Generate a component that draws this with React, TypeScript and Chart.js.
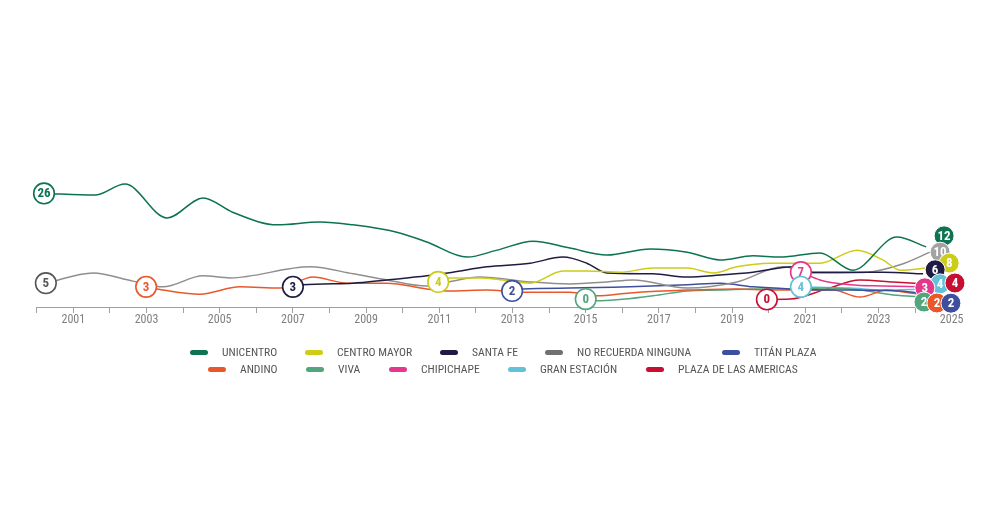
import React, { useEffect, useRef } from 'react';
import { Chart, registerables } from 'chart.js';

Chart.register(...registerables);

// ---------- DATA ----------
const seriesNames = [
  'UNICENTRO',
  'CENTRO MAYOR',
  'SANTA FE',
  'NO RECUERDA NINGUNA',
  'TITÁN PLAZA',
  'ANDINO',
  'VIVA',
  'CHIPICHAPE',
  'GRAN ESTACIÓN',
  'PLAZA DE LAS AMERICAS',
];

const unicentroYears = [2000.2, 2001.59, 2002.41, 2003.56, 2004.55, 2005.35, 2006.57, 2007.74, 2008.64, 2009.84, 2010.66, 2011.76, 2012.58, 2013.56, 2014.57, 2015.58, 2016.76, 2017.77, 2018.67, 2019.57, 2020.31, 2021.4, 2022.3, 2023.5, 2024.3];
const unicentroValues = [26, 25.6, 28.3, 20.0, 24.9, 21.4, 18.3, 19.0, 18.3, 16.5, 14.1, 10.4, 12.1, 14.3, 12.6, 10.9, 12.4, 11.6, 9.7, 10.7, 10.4, 11.4, 7.2, 15.3, 12.9];

const centroMayorYears = [2010.97, 2011.24, 2012.11, 2012.74, 2013.48, 2014.38, 2015.03, 2015.94, 2016.84, 2017.77, 2018.48, 2019.13, 2020.04, 2021.4, 2022.41, 2023.12, 2023.59, 2024.33];
const centroMayorValues = [4.3, 5.3, 5.3, 4.8, 4.0, 7.0, 7.0, 6.7, 7.7, 7.7, 6.5, 8.0, 8.9, 8.9, 12.1, 9.7, 7.2, 7.7];

const santaFeYears = [2007.0, 2007.27, 2008.64, 2009.57, 2010.66, 2011.37, 2012.3, 2013.48, 2014.38, 2015.03, 2015.58, 2016.84, 2017.77, 2018.67, 2019.57, 2020.66, 2021.21, 2022.22, 2023.12, 2024.22];
const santaFeValues = [3.1, 3.6, 4.0, 4.8, 5.8, 6.7, 8.0, 8.9, 10.4, 8.9, 6.5, 6.3, 5.5, 6.0, 6.7, 8.0, 6.7, 6.7, 6.7, 6.3];

const noRecuerdaYears = [2000.25, 2001.54, 2002.63, 2003.45, 2004.54, 2005.28, 2007.47, 2008.65, 2009.57, 2010.66, 2011.24, 2012.11, 2013.48, 2014.57, 2015.58, 2016.29, 2017.77, 2019.13, 2020.39, 2021.21, 2022.69, 2023.59, 2024.41];
const noRecuerdaValues = [4.0, 6.5, 4.5, 3.1, 5.8, 5.3, 8.0, 6.3, 4.8, 3.3, 4.3, 5.5, 4.3, 3.8, 4.3, 4.8, 2.8, 4.3, 8.0, 6.5, 6.7, 8.5, 11.6];

const titanYears = [2012.99, 2013.29, 2014.57, 2016.21, 2017.77, 2018.67, 2019.57, 2020.58, 2022.22, 2023.59, 2024.35];
const titanValues = [2.1, 2.6, 2.8, 3.1, 3.6, 4.0, 3.1, 2.6, 2.3, 2.1, 1.3];

const andinoYears = [2002.99, 2003.29, 2004.46, 2005.55, 2006.65, 2007.55, 2008.48, 2009.57, 2010.66, 2011.29, 2012.3, 2013.2, 2014.57, 2015.31, 2016.21, 2017.77, 2019.13, 2020.04, 2021.76, 2022.49, 2023.23, 2023.86, 2024.35];
const andinoValues = [3.1, 2.6, 1.3, 3.1, 2.8, 5.5, 4.0, 4.0, 2.6, 2.1, 2.3, 1.8, 1.8, 0.9, 1.6, 2.3, 2.6, 2.3, 2.3, 0.6, 2.3, 1.6, 1.1];

const vivaYears = [2015.0, 2015.31, 2016.84, 2017.77, 2018.67, 2019.57, 2020.5, 2021.67, 2022.49, 2023.4, 2024.27];
const vivaValues = [0.1, -0.3, 0.9, 2.1, 2.3, 2.6, 2.6, 2.8, 2.3, 1.1, 0.6];

const chipichapeYears = [2020.88, 2021.4, 2022.22, 2023.12, 2024.13];
const chipichapeValues = [6.7, 4.8, 3.6, 3.3, 3.1];

const granEstacionYears = [2020.88, 2022.22, 2023.12, 2024.27];
const granEstacionValues = [3.1, 2.8, 2.3, 2.6];

const plazaAmericasYears = [2019.95, 2020.58, 2021.59, 2022.49, 2023.4, 2024.27];
const plazaAmericasValues = [0.0, 0.1, 2.6, 4.8, 4.3, 3.8];

const startLabels = [26, 4, 3, 5, 2, 3, 0, 7, 4, 0];
const endLabels = [12, 8, 6, 10, 2, 2, 2, 3, 4, 4];

const xTickYears = [2001, 2003, 2005, 2007, 2009, 2011, 2013, 2015, 2017, 2019, 2021, 2023, 2025];

// ---------- STYLE / LAYOUT ----------
const colors = ['#0d7350', '#cdcc17', '#1e1c45', '#8f8f8f', '#3e4f9e', '#e9582b', '#52a57c', '#e5388b', '#63c2da', '#c70f33'];
const startLabelColors = ['#0d7350', '#cdcc17', '#1e1c45', '#555555', '#3e4f9e', '#e9582b', '#52a57c', '#e5388b', '#63c2da', '#c70f33'];
const legendColors = ['#0d7350', '#cdcc17', '#1e1c45', '#707070', '#3e4f9e', '#e9582b', '#52a57c', '#e5388b', '#63c2da', '#c70f33'];
// pixel offsets of the end-label bubbles from each series' last point
const endOffsets: [number, number][] = [[18, -11], [22, -5], [12, -4], [10, 0], [23, 9], [9, 8], [-1, 5], [5, 1], [15, -5], [30, -1]];
// drawing order for end bubbles (later on top)
const endOrder = [0, 3, 1, 2, 8, 7, 9, 6, 5, 4];
const legendRows = [
  { top: 352, items: [0, 1, 2, 3, 4], lefts: [190, 305, 440, 545, 722] },
  { top: 369, items: [5, 6, 7, 8, 9], lefts: [208, 306, 389, 508, 646] },
];

const FONT = '"Roboto Condensed", Roboto, sans-serif';

const yearsList = [unicentroYears, centroMayorYears, santaFeYears, noRecuerdaYears, titanYears, andinoYears, vivaYears, chipichapeYears, granEstacionYears, plazaAmericasYears];
const valuesList = [unicentroValues, centroMayorValues, santaFeValues, noRecuerdaValues, titanValues, andinoValues, vivaValues, chipichapeValues, granEstacionValues, plazaAmericasValues];

const labelPlugin = {
  id: 'bubbleLabels',
  afterDatasetsDraw(chart: any) {
    const ctx = chart.ctx as CanvasRenderingContext2D;
    ctx.save();
    ctx.textAlign = 'center';
    ctx.textBaseline = 'middle';
    // start labels
    chart.data.datasets.forEach((_: any, i: number) => {
      const meta = chart.getDatasetMeta(i);
      const p = meta.data[0];
      if (!p) return;
      ctx.beginPath();
      ctx.arc(p.x, p.y, 10.3, 0, Math.PI * 2);
      ctx.fillStyle = '#ffffff';
      ctx.fill();
      ctx.lineWidth = 1.6;
      ctx.strokeStyle = startLabelColors[i];
      ctx.stroke();
      ctx.fillStyle = startLabelColors[i];
      ctx.font = `bold 13px ${FONT}`;
      ctx.fillText(String(startLabels[i]), p.x, p.y + 0.5);
    });
    // end labels
    endOrder.forEach((i) => {
      const meta = chart.getDatasetMeta(i);
      const p = meta.data[meta.data.length - 1];
      if (!p) return;
      const cx = p.x + endOffsets[i][0];
      const cy = p.y + endOffsets[i][1];
      ctx.beginPath();
      ctx.arc(cx, cy, 10, 0, Math.PI * 2);
      ctx.fillStyle = i === 3 ? '#a3a3a3' : colors[i];
      ctx.fill();
      ctx.lineWidth = 1;
      ctx.strokeStyle = '#ffffff';
      ctx.stroke();
      ctx.fillStyle = '#ffffff';
      ctx.font = `bold 13px ${FONT}`;
      ctx.fillText(String(endLabels[i]), cx, cy + 0.5);
    });
    ctx.restore();
  },
};

export default function App() {
  const canvasRef = useRef<HTMLCanvasElement | null>(null);

  useEffect(() => {
    if (!canvasRef.current) return;
    const datasets = seriesNames.map((name, i) => ({
      label: name,
      data: yearsList[i].map((yr, k) => ({ x: yr, y: valuesList[i][k] })),
      borderColor: colors[i],
      backgroundColor: colors[i],
      borderWidth: 1.5,
      pointRadius: 0,
      pointHoverRadius: 0,
      cubicInterpolationMode: 'monotone' as const,
      fill: false,
      clip: false as any,
    }));
    const chart = new Chart(canvasRef.current, {
      type: 'line',
      data: { datasets },
      options: {
        responsive: false,
        animation: false,
        events: [],
        layout: { padding: { left: 36.7, right: 48.3, top: 103.7, bottom: 193 } },
        plugins: { legend: { display: false }, tooltip: { enabled: false } },
        scales: {
          x: {
            type: 'linear',
            min: 2000,
            max: 2025,
            afterFit: (scale: any) => {
              scale.height = 30;
            },
            ticks: {
              stepSize: 1,
              autoSkip: false,
              maxRotation: 0,
              padding: 0,
              color: '#808080',
              font: { family: FONT, size: 12 },
              callback: (v: any) => (xTickYears.includes(Number(v)) ? String(v) : ''),
            },
            grid: { drawOnChartArea: false, drawTicks: true, tickLength: 6, color: '#a0a0a0', lineWidth: 1 },
            border: { display: true, color: '#a0a0a0', width: 1 },
          },
          y: {
            display: false,
            min: -1.84,
            max: 48,
          },
        },
      },
      plugins: [labelPlugin],
    });
    return () => chart.destroy();
  }, []);

  return (
    <div style={{ position: 'absolute', left: 0, top: 0, width: 1000, height: 530, background: '#ffffff', fontFamily: FONT }}>
      <canvas ref={canvasRef} width={1000} height={530} style={{ position: 'absolute', left: 0, top: 0, width: 1000, height: 530 }} />
      {legendRows.map((row, r) =>
        row.items.map((idx, k) => (
          <div
            key={`${r}-${k}`}
            style={{
              position: 'absolute',
              left: row.lefts[k],
              top: row.top - 8,
              height: 16,
              display: 'flex',
              alignItems: 'center',
              whiteSpace: 'nowrap',
            }}
          >
            <span style={{ display: 'inline-block', width: 18, height: 5, borderRadius: 3, background: legendColors[idx], marginRight: 14 }} />
            <span style={{ fontSize: 11.6, color: '#555555', letterSpacing: 0 }}>{seriesNames[idx]}</span>
          </div>
        ))
      )}
    </div>
  );
}
